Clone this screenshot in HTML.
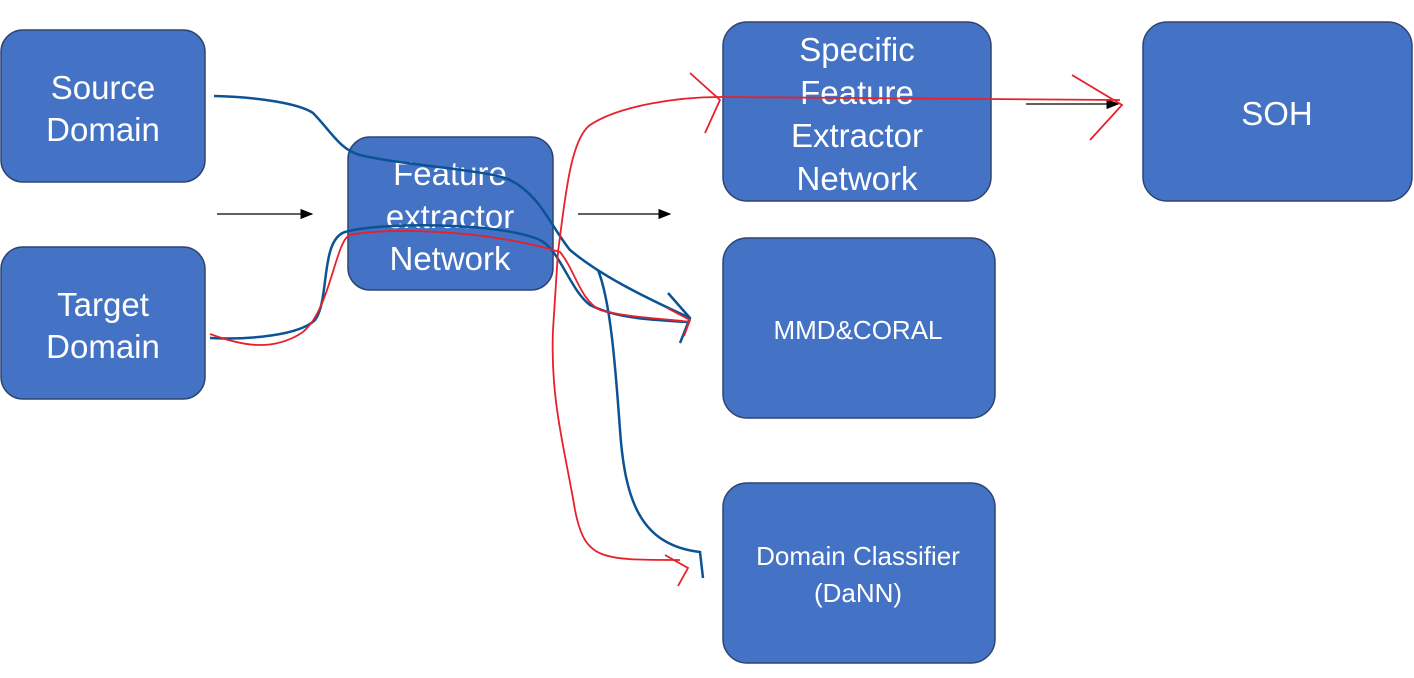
<!DOCTYPE html>
<html><head><meta charset="utf-8"><style>
html,body{margin:0;padding:0;background:#fff;width:1414px;height:678px;overflow:hidden}
svg{display:block}
text{font-family:"Liberation Sans",sans-serif;fill:#fff;text-anchor:middle}
</style></head><body>
<svg width="1414" height="678" viewBox="0 0 1414 678" xmlns="http://www.w3.org/2000/svg">
<defs><marker id="a" markerWidth="10" markerHeight="8" refX="9" refY="4" orient="auto"><path d="M0,0 L10,4 L0,8z" fill="#000"/></marker></defs>
<g fill="#4472C4" stroke="#2F4470" stroke-width="1.5">
<rect x="1" y="30" width="204" height="152" rx="22"/>
<rect x="1" y="247" width="204" height="152" rx="22"/>
<rect x="348" y="137" width="205" height="153" rx="22"/>
<rect x="723" y="22" width="268" height="179" rx="24"/>
<rect x="1143" y="22" width="269" height="179" rx="24"/>
<rect x="723" y="238" width="272" height="180" rx="24"/>
<rect x="723" y="483" width="272" height="180" rx="24"/>
</g>
<g font-size="33">
<text x="103" y="99">Source</text><text x="103" y="141">Domain</text>
<text x="103" y="316">Target</text><text x="103" y="358">Domain</text>
<text x="450" y="185">Feature</text><text x="450" y="228">extractor</text><text x="450" y="270">Network</text>
<text x="857" y="61">Specific</text><text x="857" y="104">Feature</text><text x="857" y="147">Extractor</text><text x="857" y="190">Network</text>
<text x="1277" y="125">SOH</text>
</g>
<g font-size="26">
<text x="858" y="339">MMD&amp;CORAL</text>
<text x="858" y="565">Domain Classifier</text><text x="858" y="602">(DaNN)</text>
</g>
<g stroke="#000" stroke-width="1.3" marker-end="url(#a)">
<line x1="217" y1="214" x2="312" y2="214"/>
<line x1="578" y1="214" x2="670" y2="214"/>
<line x1="1026" y1="104" x2="1118" y2="104"/>
</g>
<g fill="none" stroke="#0B5394" stroke-width="2.5">
<path d="M214,96 C260,97 300,104 313,113 C330,130 340,150 360,155 C400,165 490,170 510,180 C540,195 550,225 570,250 C600,275 640,295 690,318"/>
<path d="M210,338 C250,340 300,335 315,320 C330,300 320,240 345,232 C380,222 500,222 540,240 C560,250 570,290 590,305 C620,320 660,320 688,322"/>
<path d="M598,270 C610,300 615,360 620,430 C625,500 640,545 700,552 L703,578"/>
<path d="M668,293 L690,318 L680,343"/>
</g>
<g fill="none" stroke="#E8202A" stroke-width="1.8">
<path d="M210,334 C240,345 270,352 300,334 C330,315 335,240 350,235 C380,228 480,228 560,252 C575,270 580,300 600,310 C630,318 660,318 690,322"/>
<path d="M667,308 L690,320 L684,336"/>
<path d="M558,252 C565,200 570,140 590,125 C620,105 680,97 720,97 L1120,100"/>
<path d="M690,73 L720,100 L705,133"/>
<path d="M1072,75 L1122,105 L1090,140"/>
<path d="M558,252 L553,330 C550,400 565,450 575,510 C585,560 600,560 680,560"/>
<path d="M665,555 L688,568 L678,586"/>
</g>
</svg>
</body></html>
